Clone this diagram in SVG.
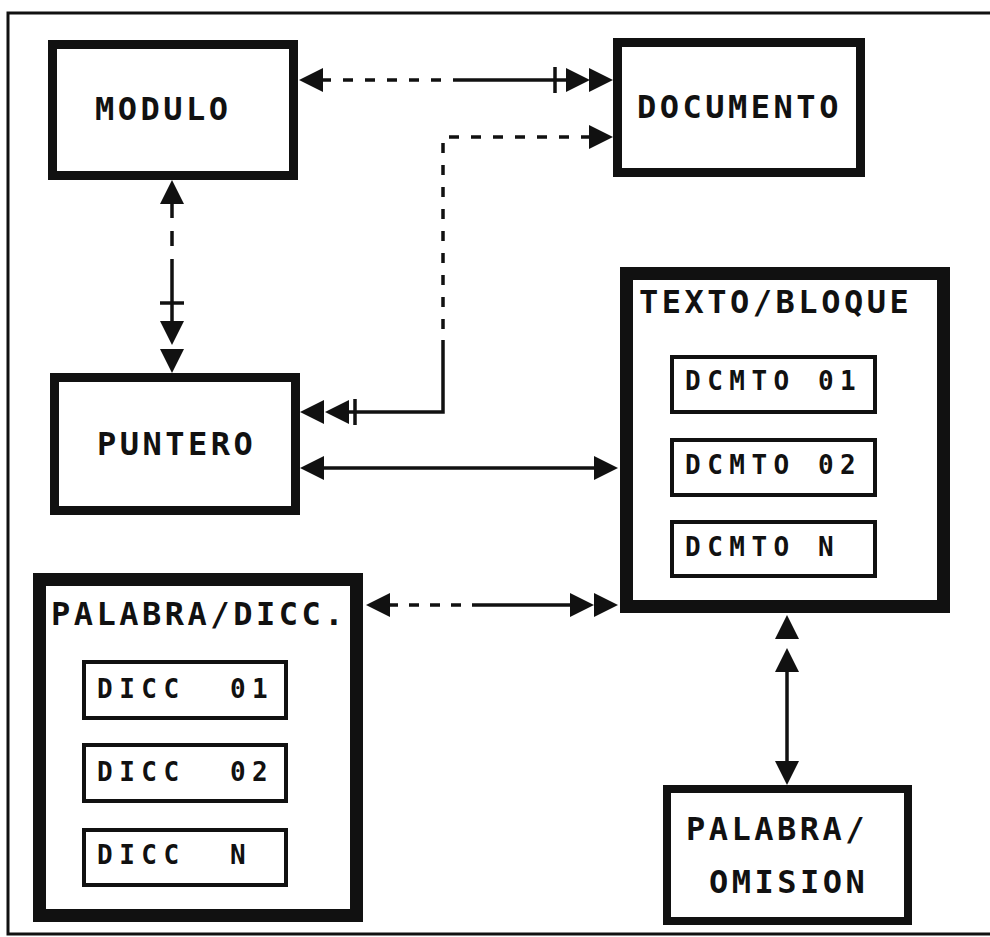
<svg xmlns="http://www.w3.org/2000/svg" xmlns:xlink="http://www.w3.org/1999/xlink" width="990" height="937" viewBox="0 0 990 937">
<style>
  .box{fill:#fff;stroke:#111;}
  .sub{fill:#fff;stroke:#111;stroke-width:4;}
  .lbl{font-family:"DejaVu Sans Mono","Liberation Mono",monospace;font-weight:bold;font-size:32px;letter-spacing:3.5px;fill:#111;}
  .sl{font-family:"DejaVu Sans Mono","Liberation Mono",monospace;font-weight:bold;font-size:26px;letter-spacing:6.5px;fill:#111;white-space:pre;}
  .ln{fill:none;stroke:#111;stroke-width:3.5;}
  .dash{stroke-dasharray:10 12;}
  .ah{fill:#111;}
</style>
<defs>
  <path id="ah" class="ah" d="M0,0 L-24,-12 L-24,12 Z"/>
</defs>
<rect width="990" height="937" fill="#fff"/>
<path d="M990,13 H8 V934 H990" fill="none" stroke="#111" stroke-width="3"/>

<g id="modulo">
  <rect class="box" x="52.5" y="44.5" width="241" height="131" stroke-width="9"/>
  <text class="lbl" x="95" y="120">MODULO</text>
</g>
<g id="documento">
  <rect class="box" x="617.5" y="42.5" width="243" height="130" stroke-width="9"/>
  <text class="lbl" x="637" y="118">DOCUMENTO</text>
</g>
<g id="puntero">
  <rect class="box" x="54.5" y="377.5" width="241" height="133" stroke-width="9"/>
  <text class="lbl" x="97" y="455">PUNTERO</text>
</g>
<g id="texto-bloque">
  <rect class="box" x="626.5" y="273.5" width="317" height="333" stroke-width="13"/>
  <text class="lbl" x="639" y="313">TEXTO/BLOQUE</text>
  <g id="dcmto01">
    <rect class="sub" x="672" y="357" width="203" height="55"/>
    <text class="sl" x="685" y="390">DCMTO 01</text>
  </g>
  <g id="dcmto02">
    <rect class="sub" x="672" y="440" width="203" height="55"/>
    <text class="sl" x="685" y="474">DCMTO 02</text>
  </g>
  <g id="dcmton">
    <rect class="sub" x="672" y="522" width="203" height="54"/>
    <text class="sl" x="685" y="556">DCMTO N</text>
  </g>
</g>
<g id="palabra-dicc">
  <rect class="box" x="39.5" y="579.5" width="317" height="336" stroke-width="13"/>
  <text class="lbl" x="51" y="625">PALABRA/DICC.</text>
  <g id="dicc01">
    <rect class="sub" x="84" y="662" width="202" height="56"/>
    <text class="sl" x="97" y="698">DICC  01</text>
  </g>
  <g id="dicc02">
    <rect class="sub" x="84" y="745" width="202" height="56"/>
    <text class="sl" x="97" y="781">DICC  02</text>
  </g>
  <g id="diccn">
    <rect class="sub" x="84" y="830" width="202" height="55"/>
    <text class="sl" x="97" y="864">DICC  N</text>
  </g>
</g>
<g id="palabra-omision">
  <rect class="box" x="667" y="789" width="241" height="132" stroke-width="8"/>
  <text class="lbl" x="686" y="840">PALABRA/</text>
  <text class="lbl" x="709" y="893">OMISION</text>
</g>

<g id="connectors">
  <!-- MODULO <-> DOCUMENTO -->
  <line class="ln dash" x1="321" y1="80" x2="453" y2="80"/>
  <line class="ln" x1="453" y1="80" x2="568" y2="80"/>
  <line class="ln" x1="555" y1="67" x2="555" y2="93"/>
  <use xlink:href="#ah" transform="translate(299,80) rotate(180)"/>
  <use xlink:href="#ah" transform="translate(590,80)"/>
  <use xlink:href="#ah" transform="translate(613,80)"/>

  <!-- PUNTERO <-> DOCUMENTO -->
  <polyline class="ln dash" points="591,137 443,137 443,340"/>
  <polyline class="ln" points="443,340 443,412 345,412"/>
  <line class="ln" x1="355" y1="399" x2="355" y2="425"/>
  <use xlink:href="#ah" transform="translate(613,137)"/>
  <use xlink:href="#ah" transform="translate(300,412) rotate(180)"/>
  <use xlink:href="#ah" transform="translate(325,412) rotate(180)"/>

  <!-- PUNTERO <-> TEXTO/BLOQUE -->
  <line class="ln" x1="320" y1="468" x2="598" y2="468"/>
  <use xlink:href="#ah" transform="translate(300,468) rotate(180)"/>
  <use xlink:href="#ah" transform="translate(618,468)"/>

  <!-- MODULO <-> PUNTERO -->
  <line class="ln" x1="172" y1="203" x2="172" y2="263" stroke-dasharray="15 13"/>
  <line class="ln" x1="172" y1="263" x2="172" y2="325"/>
  <line class="ln" x1="160" y1="303" x2="184" y2="303"/>
  <use xlink:href="#ah" transform="translate(172,180) rotate(-90)"/>
  <use xlink:href="#ah" transform="translate(172,345) rotate(90)"/>
  <use xlink:href="#ah" transform="translate(172,373) rotate(90)"/>

  <!-- PALABRA/DICC <-> TEXTO/BLOQUE -->
  <line class="ln" x1="388" y1="605" x2="480" y2="605" stroke-dasharray="10 11"/>
  <line class="ln" x1="480" y1="605" x2="575" y2="605"/>
  <use xlink:href="#ah" transform="translate(366,605) rotate(180)"/>
  <use xlink:href="#ah" transform="translate(594,605)"/>
  <use xlink:href="#ah" transform="translate(618,605)"/>

  <!-- TEXTO/BLOQUE <-> PALABRA/OMISION -->
  <line class="ln" x1="787" y1="660" x2="787" y2="765"/>
  <use xlink:href="#ah" transform="translate(787,615) rotate(-90)"/>
  <use xlink:href="#ah" transform="translate(787,648) rotate(-90)"/>
  <use xlink:href="#ah" transform="translate(787,785) rotate(90)"/>
</g>
</svg>
